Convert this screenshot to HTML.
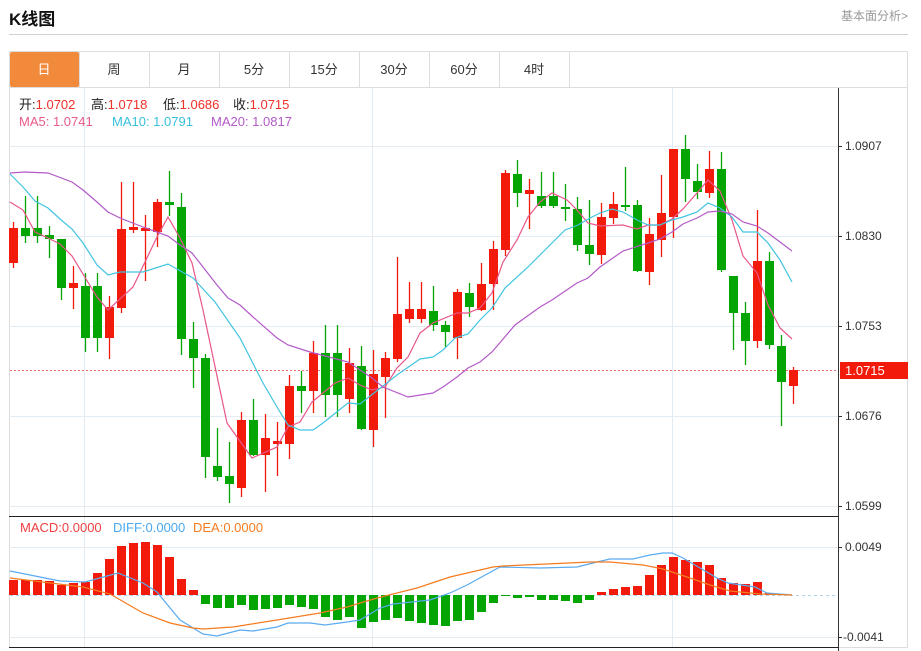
<!DOCTYPE html>
<html><head><meta charset="utf-8"><style>
body{margin:0;width:921px;height:651px;background:#fff;font-family:"Liberation Sans","Noto Sans CJK SC",sans-serif;position:relative;overflow:hidden}
.t{position:absolute;white-space:nowrap}
</style></head><body>
<div class="t" style="left:9px;top:5px;font-size:17px;font-weight:bold;color:#111">K线图</div>
<div class="t" style="left:841px;top:7px;font-size:12px;color:#999">基本面分析&gt;</div>
<div style="position:absolute;left:9px;top:34px;width:899px;height:1px;background:#d0d0d0"></div>
<svg width="921" height="651" style="position:absolute;left:0;top:0" id="s" font-family="Liberation Sans, Noto Sans CJK SC, sans-serif">
<rect x="9.5" y="51.5" width="898" height="596" fill="none" stroke="#ddd"/>
<line x1="9" y1="87.5" x2="908" y2="87.5" stroke="#ddd"/>
<rect x="10" y="52" width="69" height="35" fill="#f28a3c" rx="2"/>
<g id="tabs" stroke="#ddd"></g>
<g font-size="13" fill="#333" text-anchor="middle">
<text x="44" y="74" fill="#fff">日</text><text x="114" y="74">周</text><text x="184" y="74">月</text><text x="254" y="74">5分</text><text x="324" y="74">15分</text><text x="394" y="74">30分</text><text x="464" y="74">60分</text><text x="534" y="74">4时</text>
</g>
<g id="grid" stroke="#e3ecf3" stroke-width="1"></g>
<line x1="838.5" y1="88" x2="838.5" y2="651" stroke="#333"/>
<line x1="9" y1="516.5" x2="838" y2="516.5" stroke="#222"/>
<line x1="9" y1="647.5" x2="838" y2="647.5" stroke="#222"/>
<line x1="10" y1="370.5" x2="838" y2="370.5" stroke="#f07070" stroke-dasharray="2,2"/>
<line x1="10" y1="595.5" x2="836" y2="595.5" stroke="#aad4ee" stroke-dasharray="3,3"/>
<g id="c"></g>
<g id="m"></g>
<g font-size="12" fill="#333">
<text x="845" y="150">1.0907</text><text x="845" y="240">1.0830</text><text x="845" y="330">1.0753</text><text x="845" y="420">1.0676</text><text x="845" y="510">1.0599</text>
<text x="845" y="551">0.0049</text><text x="843" y="641">-0.0041</text>
</g>
<g stroke="#333"><line x1="838" y1="146.5" x2="842" y2="146.5"/><line x1="838" y1="236.5" x2="842" y2="236.5"/><line x1="838" y1="326.5" x2="842" y2="326.5"/><line x1="838" y1="416.5" x2="842" y2="416.5"/><line x1="838" y1="506.5" x2="842" y2="506.5"/><line x1="838" y1="547.5" x2="842" y2="547.5"/><line x1="838" y1="637.5" x2="842" y2="637.5"/></g>
<rect x="840" y="362" width="68" height="17" fill="#f21a0a"/>
<text x="845" y="375" font-size="13" fill="#fff">1.0715</text>
<g font-size="13">
<text x="19" y="109" fill="#222">开:<tspan fill="#f0302a">1.0702</tspan></text>
<text x="91" y="109" fill="#222">高:<tspan fill="#f0302a">1.0718</tspan></text>
<text x="163" y="109" fill="#222">低:<tspan fill="#f0302a">1.0686</tspan></text>
<text x="233" y="109" fill="#222">收:<tspan fill="#f0302a">1.0715</tspan></text>
<text x="19" y="126" fill="#e85a8a">MA5: 1.0741</text>
<text x="112" y="126" fill="#36c0dc">MA10: 1.0791</text>
<text x="211" y="126" fill="#b45ac8">MA20: 1.0817</text>
<text x="20" y="532" fill="#f04040">MACD:0.0000</text>
<text x="113" y="532" fill="#4aa8f0">DIFF:0.0000</text>
<text x="193" y="532" fill="#f57c20">DEA:0.0000</text>
</g>
</svg>
<script>
var NS="http://www.w3.org/2000/svg";
function el(p,n,a){var e=document.createElementNS(NS,n);for(var k in a)e.setAttribute(k,a[k]);document.getElementById(p).appendChild(e);return e;}
[79,149,219,289,359,429,499,569].forEach(function(x){el("tabs","line",{x1:x+.5,y1:52,x2:x+.5,y2:87});});
[84,372,672].forEach(function(x){el("grid","line",{x1:x+.5,y1:88,x2:x+.5,y2:647});});
[146,236,326,416,506,547,637].forEach(function(y){el("grid","line",{x1:9,y1:y+.5,x2:838,y2:y+.5});});
var C=[[1,228,263,222,268],[0,228,236,196,243],[0,228,236,196,243],[0,235,239,226,258],[0,239,288,239,300],[1,283,288,266,309],[0,286,338,273,352],[0,286,338,273,352],[1,307,338,296,359],[1,229,308,182,313],[1,227,230,182,233],[1,228,231,215,281],[1,202,232,199,247],[0,202,205,171,216],[0,207,339,193,355],[0,339,358,322,388],[0,358,457,354,478],[0,466,477,428,481],[0,476,484,442,503],[1,420,488,412,497],[0,420,455,399,456],[1,438,455,414,492],[1,441,444,422,476],[1,386,444,375,459],[0,386,391,371,413],[1,353,391,341,413],[0,353,395,325,417],[0,353,395,325,417],[1,363,399,348,413],[0,366,429,346,430],[1,374,430,350,447],[1,358,377,352,418],[1,314,359,257,362],[1,309,319,282,323],[1,309,319,282,323],[0,311,325,286,331],[0,325,332,321,347],[1,292,338,289,359],[0,293,307,283,317],[1,284,310,263,311],[1,249,284,241,310],[1,173,250,170,256],[0,174,193,160,207],[1,190,194,179,229],[0,196,206,172,208],[0,196,206,172,208],[0,207,209,184,221],[0,209,245,197,251],[0,245,254,200,265],[1,217,255,203,264],[1,204,218,192,224],[0,205,206,167,211],[0,205,271,200,272],[1,234,272,218,285],[1,213,240,175,257],[1,149,217,149,238],[0,149,179,135,202],[0,181,192,164,199],[1,169,193,151,198],[0,169,270,152,272],[0,276,313,276,350],[0,313,341,302,365],[1,261,341,210,348],[0,261,345,252,349],[0,346,382,335,426],[1,370,386,367,404]];
var H=[580,580,580,581,585,583,582,573,559,546,543,542,545,557,579,590,604,608,608,605,610,609,608,605,607,609,617,620,617,628,622,620,618,621,623,625,626,621,620,612,603,596,598,597,600,600,601,603,600,592,589,587,586,575,565,557,560,562,565,578,583,584,582,593,594];
var R="#f21a0a",G="#02a502";
C.forEach(function(c,i){var x=13+i*12,col=c[0]?R:G;
el("c","line",{x1:x+.5,y1:c[3],x2:x+.5,y2:c[4],stroke:col,"stroke-width":1.3});
el("c","rect",{x:x-4,y:c[1],width:9,height:Math.max(2,c[2]-c[1]),fill:col});});
H.forEach(function(h,i){var x=13+i*12;var up=h<595;
el("c","rect",{x:x-4,y:up?h:595,width:9,height:Math.max(1,Math.abs(h-595)),fill:up?R:G});});
function pl(pts,col){el("m","polyline",{points:pts,fill:"none",stroke:col,"stroke-width":1.2});}
pl("10,202 23,210 35,232 48,238 60,244 72,256 97,297 108,310 133,287 157,237 168,217 180,238 192,263 203,310 227,423 252,458 277,447 288,427 300,422 312,402 335,383 348,378 360,385 372,390 385,387 397,368 408,357 420,333 433,323 457,313 468,313 480,308 492,293 503,262 517,240 528,217 540,202 552,193 567,200 577,210 588,223 600,226 623,225 637,229 648,225 660,225 672,219 683,209 697,193 708,180 720,191 732,220 743,256 757,273 768,305 780,328 792,339","#e8558a");
pl("10,174 23,187 35,201 48,208 60,219 72,229 83,243 97,265 108,275 120,272 143,272 168,264 193,278 215,302 240,338 263,383 277,407 288,425 300,430 313,430 323,423 348,403 360,404 397,375 420,359 433,357 443,350 455,338 468,334 480,320 492,308 505,288 528,267 542,253 565,230 578,225 590,218 600,213 612,209 623,212 637,220 648,225 660,225 672,220 683,217 697,212 708,203 720,208 732,217 743,232 757,232 768,243 780,260 792,282","#40c4e0");
pl("10,173 25,172 48,173 72,182 83,190 97,202 108,212 120,218 143,227 168,236 180,245 192,253 203,267 217,285 228,298 240,305 253,317 277,338 288,345 310,352 348,362 372,378 383,387 408,397 433,393 443,387 457,377 468,368 480,362 492,352 515,325 540,307 552,300 577,283 588,278 600,267 623,251 648,243 660,239 672,232 683,224 697,218 708,212 720,211 732,214 743,222 757,226 768,233 780,242 792,251","#b45ac8");
pl("10,571 60,581 85,582 118,573 143,583 157,592 180,620 203,634 217,636 240,630 253,631 277,627 288,623 310,623 325,625 347,622 360,620 380,608 393,604 430,600 450,593 467,585 500,567 540,568 577,567 597,562 610,559 633,559 650,555 663,553 672,553 683,558 717,578 728,583 755,587 767,593 792,595","#5aabf0");
pl("10,578 83,587 110,594 143,613 170,623 193,628 203,629 233,627 277,620 320,613 347,607 377,598 417,588 450,577 493,567 503,566 590,562 610,562 643,565 663,569 690,578 710,585 730,591 760,594 792,595","#f57c20");
</script>
</body></html>
